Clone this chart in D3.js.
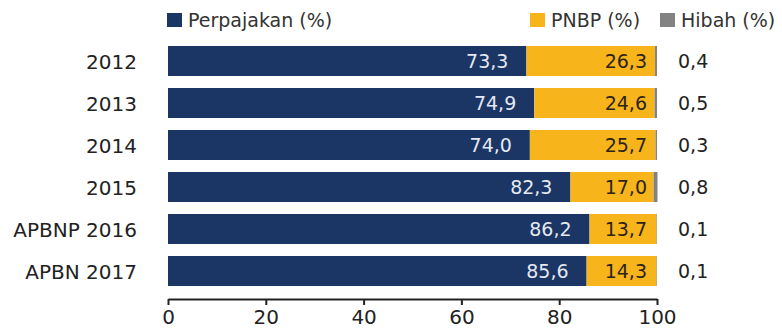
<!DOCTYPE html>
<html>
<head>
<meta charset="utf-8">
<script src="https://cdn.jsdelivr.net/npm/d3@7"></script>
<style>
  body { margin: 0; background: #fff; }
  svg { font-family: 'DejaVu Sans', sans-serif; }
</style>
</head>
<body>
<div id="chart"></div>
<script>
// data
var categories = ['2012', '2013', '2014', '2015', 'APBNP 2016', 'APBN 2017'];
var perpajakan = [73.3, 74.9, 74.0, 82.3, 86.2, 85.6];
var pnbp = [26.3, 24.6, 25.7, 17.0, 13.7, 14.3];
var hibah = [0.4, 0.5, 0.3, 0.8, 0.1, 0.1];
var seriesNames = ['Perpajakan (%)', 'PNBP (%)', 'Hibah (%)'];
var seriesColors = ['#1b3564', '#f8b41b', '#828282'];
var xTicks = [0, 20, 40, 60, 80, 100];

var W = 782, H = 329;
var margin = {left: 168, right: 125, top: 33, bottom: 30};
var FONT = "'DejaVu Sans', sans-serif";

var svg = d3.select('#chart').append('svg').attr('width', W).attr('height', H);

var x = d3.scaleLinear().domain([0, 100]).range([margin.left, W - margin.right]);
var y = d3.scaleBand().domain(categories).range([margin.top, H - margin.bottom])
  .paddingInner(0.286).paddingOuter(0.31);

function fmt(v) { return v.toFixed(1).replace('.', ','); }

var rows = categories.map(function(c, i) {
  return {cat: c, vals: [perpajakan[i], pnbp[i], hibah[i]]};
});

// stacked bars + value labels
rows.forEach(function(r) {
  var start = 0;
  r.vals.forEach(function(v, k) {
    svg.append('rect')
      .attr('x', x(start)).attr('y', y(r.cat))
      .attr('width', x(start + v) - x(start)).attr('height', y.bandwidth())
      .attr('fill', seriesColors[k]);
    start += v;
  });
  var cy = y(r.cat) + y.bandwidth() / 2;
  svg.append('text').text(fmt(r.vals[0]))
    .attr('x', x(r.vals[0]) - 18).attr('y', cy).attr('dy', '0.36em')
    .attr('text-anchor', 'end').attr('font-size', 19).attr('fill', '#e4e9f2');
  svg.append('text').text(fmt(r.vals[1]))
    .attr('x', x(100) - 10).attr('y', cy).attr('dy', '0.36em')
    .attr('text-anchor', 'end').attr('font-size', 19).attr('fill', '#2b2416');
  svg.append('text').text(fmt(r.vals[2]))
    .attr('x', x(100) + 21).attr('y', cy).attr('dy', '0.36em')
    .attr('font-size', 19).attr('fill', '#222');
});

// category labels
var yAxis = svg.append('g').attr('transform', 'translate(' + (margin.left - 31) + ',0)')
  .call(d3.axisLeft(y).tickSize(0).tickPadding(0));
yAxis.select('.domain').remove();
yAxis.selectAll('text').attr('font-size', 20).attr('fill', '#222').attr('font-family', FONT)
  .attr('dy', '0.42em');

// x axis
var xAxis = svg.append('g').attr('transform', 'translate(0,' + (H - margin.bottom) + ')')
  .call(d3.axisBottom(x).tickValues(xTicks).tickSize(6).tickSizeOuter(0).tickPadding(5));
xAxis.select('.domain').attr('stroke', '#222').attr('stroke-width', 2);
xAxis.selectAll('line').attr('stroke', '#222').attr('stroke-width', 2);
xAxis.selectAll('text').attr('font-size', 20).attr('fill', '#222').attr('font-family', FONT);

// legend
var legendX = [167, 530, 660];
seriesNames.forEach(function(n, k) {
  svg.append('rect').attr('x', legendX[k]).attr('y', 13).attr('width', 15).attr('height', 14)
    .attr('fill', seriesColors[k]);
  svg.append('text').text(n).attr('x', legendX[k] + 21).attr('y', 20).attr('dy', '0.36em')
    .attr('font-size', 19).attr('fill', '#333');
});
</script>
</body>
</html>
